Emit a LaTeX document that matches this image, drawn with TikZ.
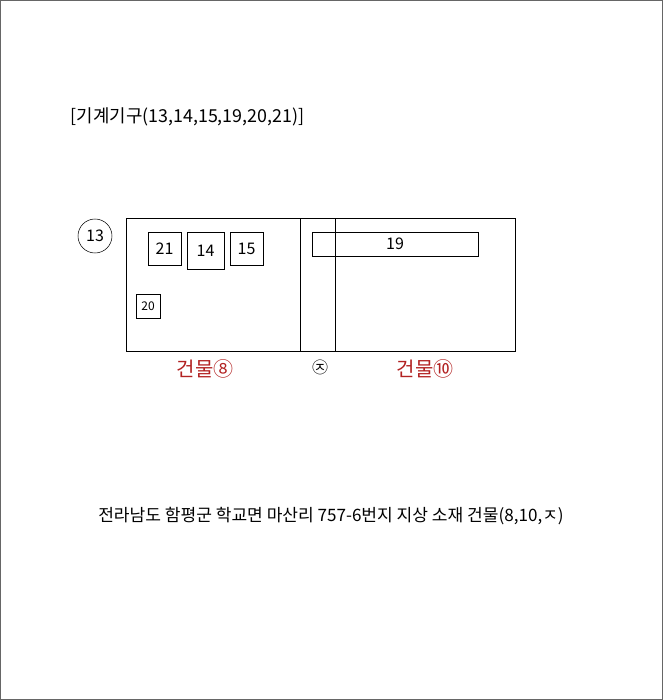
\documentclass[tikz,border=0pt]{standalone}
\usepackage{fontspec}
\setmainfont{Noto Sans CJK KR}
\definecolor{bldred}{RGB}{178,34,34}
\begin{document}
\begin{tikzpicture}[x=0.75pt,y=-0.75pt,
  mbox/.style={draw, inner sep=0pt, font=\fontsize{12}{14}\selectfont},
  bldlabel/.style={text=bldred, font=\fontsize{15}{17}\selectfont}]
\useasboundingbox (0,0) rectangle (663,700);
\draw[gray!80!black] (0.5,0.5) rectangle (662.5,699.5);
\node[anchor=west, font=\fontsize{13.4}{15}\selectfont] (title) at (66,117) {[기계기구(13,14,15,19,20,21)]};
\node[draw, circle, minimum size=25.5pt, inner sep=0pt, font=\fontsize{12}{14}\selectfont] (n13) at (95,236) {13};
% building outline
\draw (126,218) rectangle (515,351);
\draw (300,218) -- (300,351);
\draw (335,218) -- (335,351);
% machines
\node[mbox, minimum width=24.75pt, minimum height=24.75pt] (m21) at (164.5,248.5) {21};
\node[mbox, minimum width=27.75pt, minimum height=27.75pt] (m14) at (205.5,250.5) {14};
\node[mbox, minimum width=24.75pt, minimum height=24.75pt] (m15) at (246.5,248.5) {15};
\node[mbox, minimum width=18pt, minimum height=18pt, font=\fontsize{9}{10}\selectfont] (m20) at (148,306) {20};
\node[mbox, minimum width=124.5pt, minimum height=18pt] (m19) at (395,244) {19};
% labels
\node[bldlabel] (b8) at (205,369) {건물⑧};
\node[font=\fontsize{12}{14}\selectfont] (bj) at (320,367) {㉨};
\node[bldlabel] (b10) at (425,369) {건물⑩};
\node[font=\fontsize{12.8}{15}\selectfont] (addr) at (331,516) {전라남도 함평군 학교면 마산리 757-6번지 지상 소재 건물(8,10,ㅈ)};
\end{tikzpicture}
\end{document}
